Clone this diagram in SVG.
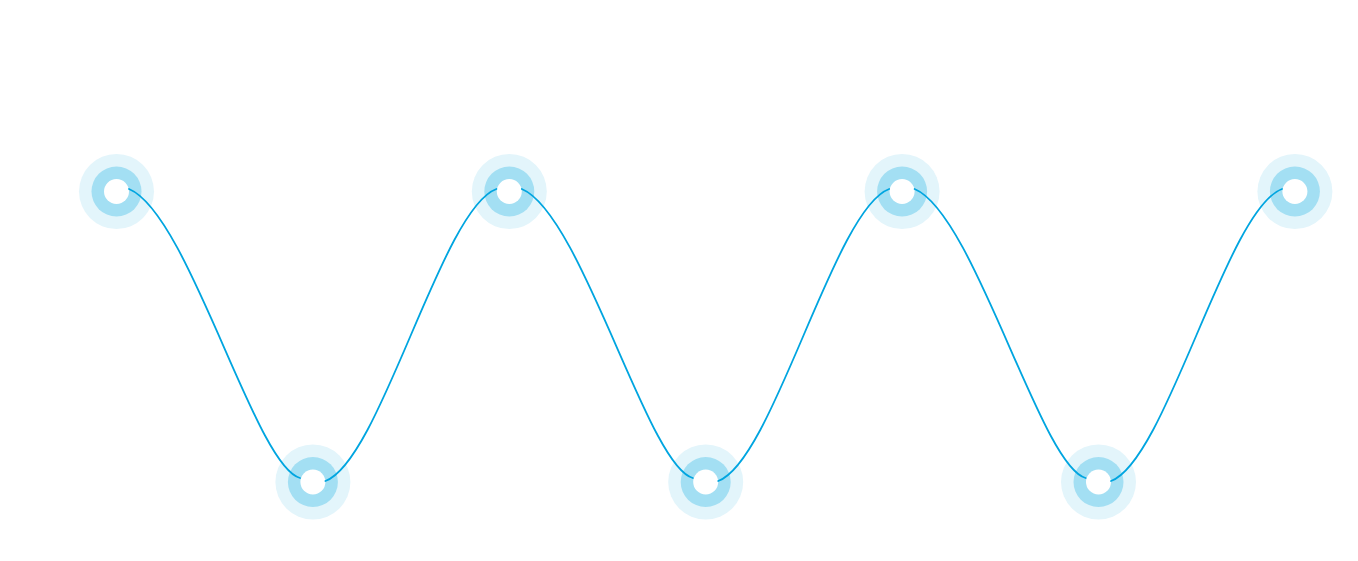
<svg xmlns="http://www.w3.org/2000/svg" width="1358" height="561" viewBox="0 0 1358 561">
  <style>
    .halo { fill: #E3F5FB; }
    .ring { fill: #A3DFF3; }
    .core { fill: #FFFFFF; }
    .wave { fill: none; stroke: #00A5E0; stroke-width: 1.8; stroke-linecap: round; }
  </style>
  <defs>
    <g id="dot">
      <circle class="halo" r="37.5"/>
      <circle class="ring" r="25"/>
      <circle class="core" r="12.5"/>
    </g>
  </defs>
  <rect width="1358" height="561" fill="#FFFFFF"/>
  <g id="node1"><use href="#dot" x="116.5" y="191.5"/></g>
  <g id="node2"><use href="#dot" x="312.9" y="482"/></g>
  <g id="node3"><use href="#dot" x="509.3" y="191.5"/></g>
  <g id="node4"><use href="#dot" x="705.7" y="482"/></g>
  <g id="node5"><use href="#dot" x="902.1" y="191.5"/></g>
  <g id="node6"><use href="#dot" x="1098.5" y="482"/></g>
  <g id="node7"><use href="#dot" x="1294.9" y="191.5"/></g>
  <g id="connectors">
    <path class="wave" d="M129,189 c60,25 126,277 171,289"/>
    <path class="wave" d="M325.4,481 c55,-20 116,-272 171,-292"/>
    <path class="wave" d="M521.8,189 c60,25 126,277 171,289"/>
    <path class="wave" d="M718.2,481 c55,-20 116,-272 171,-292"/>
    <path class="wave" d="M914.6,189 c60,25 126,277 171,289"/>
    <path class="wave" d="M1111,481 c55,-20 116,-272 171,-292"/>
  </g>
</svg>
